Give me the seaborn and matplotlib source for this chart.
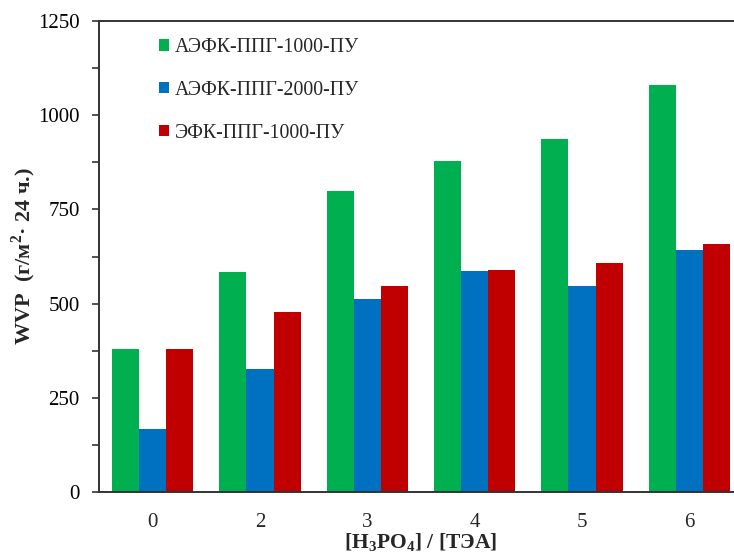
import pandas as pd
import numpy as np
import matplotlib
matplotlib.use("Agg")
import matplotlib.pyplot as plt
import seaborn as sns
from matplotlib.ticker import MultipleLocator

# data
ratios = ['0', '2', '3', '4', '5', '6']
series_names = ['АЭФК-ППГ-1000-ПУ', 'АЭФК-ППГ-2000-ПУ', 'ЭФК-ППГ-1000-ПУ']
aefk_1000 = [380, 585, 798, 878, 938, 1081]
aefk_2000 = [166, 327, 511, 586, 547, 641]
efk_1000 = [380, 478, 548, 588, 609, 659]
colors = ['#00B050', '#0070C0', '#C00000']

df = pd.DataFrame({
    'ratio': ratios * 3,
    'series': np.repeat(series_names, len(ratios)),
    'wvp': aefk_1000 + aefk_2000 + efk_1000,
})

sns.set_style('ticks')
plt.rcParams['font.family'] = ['Liberation Serif', 'DejaVu Serif']
plt.rcParams['mathtext.fontset'] = 'custom'
plt.rcParams['mathtext.rm'] = 'Liberation Serif'
plt.rcParams['mathtext.bf'] = 'Liberation Serif:bold'

fig = plt.figure(figsize=(7.34, 5.55), dpi=100)
ax = fig.add_axes([99 / 734, 1 - 492 / 555, 644 / 734, 471 / 555])

sns.barplot(data=df, x='ratio', y='wvp', hue='series', order=ratios,
            hue_order=series_names, palette=colors, width=0.755, gap=0,
            saturation=1, linewidth=0, ax=ax)

ax.set_ylim(0, 1250)
ax.set_xlim(-0.5, 5.5)
ax.yaxis.set_major_locator(MultipleLocator(250))
ax.yaxis.set_minor_locator(MultipleLocator(125))
ax.tick_params(axis='y', which='both', direction='out', length=5, width=1.2,
               colors='#333333', labelcolor='black', labelsize=15, pad=9)
ax.tick_params(axis='x', length=0, labelsize=15, pad=15)

for side in ['left', 'bottom', 'top', 'right']:
    ax.spines[side].set_linewidth(1.4)
    ax.spines[side].set_color('#333333')

ax.set_ylabel('WVP  (г/м$^\\mathbf{2}$· 24 ч.)', fontsize=16, fontweight='bold', labelpad=0)
ax.set_xlabel('[H$_\\mathbf{3}$PO$_\\mathbf{4}$] / [ТЭА]', fontsize=15.5, fontweight='bold', labelpad=-0.5)

handles, labels = ax.get_legend_handles_labels()
ax.legend(handles, labels, loc='upper left', bbox_to_anchor=(159 / 734, 1 - 38 / 555),
          bbox_transform=fig.transFigure, frameon=False, fontsize=14.3,
          handlelength=0.5, handleheight=0.5, handletextpad=0.3,
          labelspacing=1.2, borderpad=0, borderaxespad=0)

fig.savefig('out.png', dpi=100)
